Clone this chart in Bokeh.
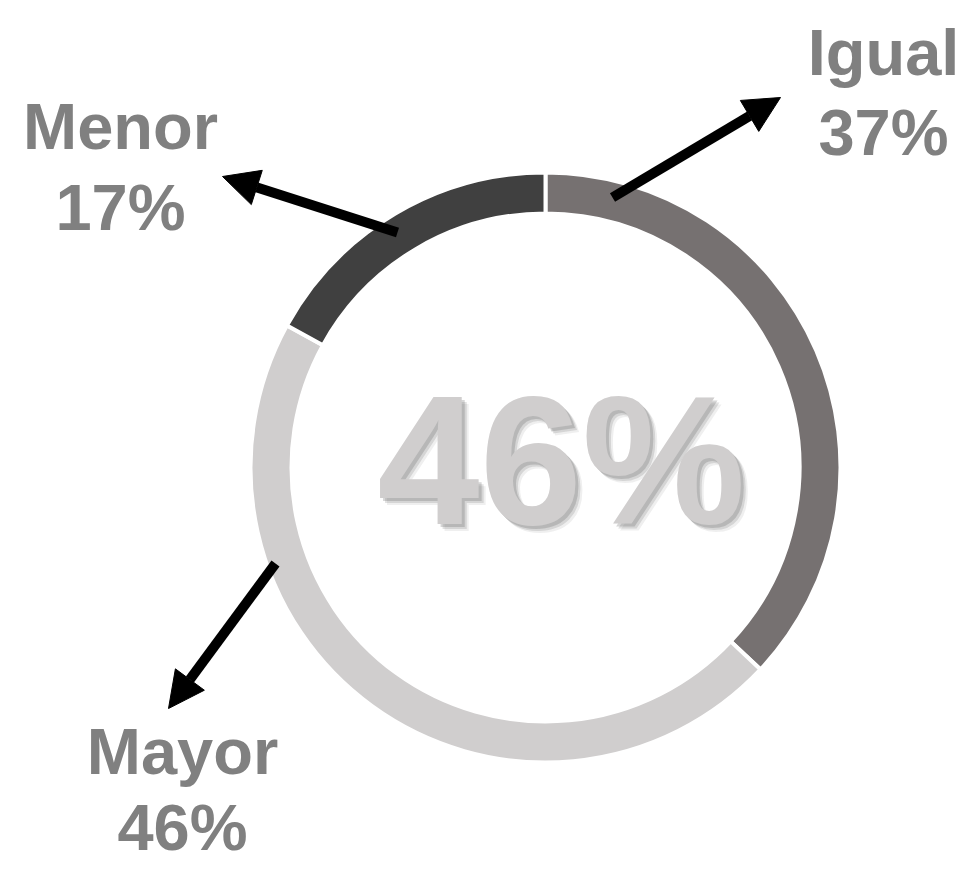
import math
from bokeh.plotting import figure
from bokeh.models import Range1d, Arrow, NormalHead, ColumnDataSource
from bokeh.core.properties import value
from bokeh.embed import file_html
from bokeh.resources import INLINE

# ---- data ----
categories = ["Igual", "Mayor", "Menor"]
percents = [37, 46, 17]
colors = ["#767171", "#d0cece", "#404040"]
center_label = "46%"

# ---- layout (pixel-like data units) ----
W, H = 964, 869
cx, cy = 545, 402
r_out, r_in = 295, 254

p = figure(width=W, height=H, x_range=Range1d(0, W), y_range=Range1d(0, H),
           output_backend="svg", toolbar_location=None, min_border=0,
           background_fill_color="white", border_fill_color="white")
p.axis.visible = False
p.grid.visible = False
p.outline_line_color = None

# wedges, clockwise from top
total = sum(percents)
starts, ends = [], []
a = math.pi / 2
for v in percents:
    b = a - 2 * math.pi * v / total
    starts.append(a)
    ends.append(b)
    a = b
src = ColumnDataSource(dict(cat=categories, start=starts, end=ends, color=colors))
p.annular_wedge(x=cx, y=cy, inner_radius=r_in, outer_radius=r_out,
                start_angle="start", end_angle="end", direction="clock",
                fill_color="color", line_color="white", line_width=4, source=src)

# center text with soft shadow
font_c = value("Liberation Sans")
tx, ty = 561, 410
for dx, dy, al in [(7, -7, 0.10), (5, -5, 0.18), (3, -3, 0.25)]:
    p.text(x=[tx + dx], y=[ty + dy], text=[center_label], text_font=font_c,
           text_font_size="184px", text_font_style="bold", text_color="#606060",
           text_alpha=al, text_align="center", text_baseline="middle")
p.text(x=[tx], y=[ty], text=[center_label], text_font=font_c,
       text_font_size="184px", text_font_style="bold", text_color="#d0cece",
       text_align="center", text_baseline="middle")

# labels (y = vertical middle of each line)
lab_font = value("Liberation Sans")
label_pos = {"Igual": (883, 817, 737), "Menor": (120, 743, 662), "Mayor": (182, 118, 42)}
for cat, pct in zip(categories, percents):
    lx, ly1, ly2 = label_pos[cat]
    p.text(x=[lx, lx], y=[ly1, ly2], text=[cat, f"{pct}%"], text_font=lab_font,
           text_font_size="65px", text_font_style="bold", text_color="#808080",
           text_align="center", text_baseline="middle")

# arrows
arrows = {"Igual": ((612, 672), (780, 772)),
          "Menor": ((397, 637), (222, 693)),
          "Mayor": ((275, 306), (168, 161))}
for cat in categories:
    (x0, y0), (x1, y1) = arrows[cat]
    p.add_layout(Arrow(x_start=x0, y_start=y0, x_end=x1, y_end=y1,
                       line_color="black", line_width=10,
                       end=NormalHead(size=36, fill_color="black", line_color="black")))

open("out.html", "w").write(file_html(p, INLINE))
